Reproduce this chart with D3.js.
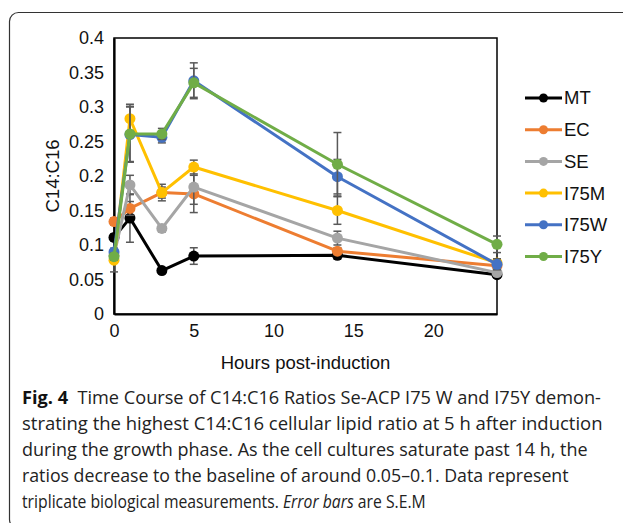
<!DOCTYPE html>
<html>
<head>
<meta charset="utf-8">
<script src="https://cdn.jsdelivr.net/npm/d3@7"></script>
<style>
  html, body { margin: 0; padding: 0; background: #fff; }
  svg { display: block; }
</style>
</head>
<body>
<div id="chart"></div>
<script>
// data
const hours = [0, 1, 3, 5, 14, 24];
const seriesNames = ["MT", "EC", "SE", "I75M", "I75W", "I75Y"];
const seriesColors = ["#000000", "#ED7D31", "#A5A5A5", "#FFC000", "#4472C4", "#70AD47"];

const MT = [0.111, 0.139, 0.063, 0.084, 0.085, 0.057];
const EC = [0.134, 0.153, 0.176, 0.174, 0.091, 0.070];
const SE = [0.085, 0.187, 0.124, 0.184, 0.110, 0.060];
const I75M = [0.078, 0.283, 0.176, 0.213, 0.150, 0.074];
const I75W = [0.090, 0.260, 0.256, 0.338, 0.199, 0.072];
const I75Y = [0.083, 0.261, 0.261, 0.335, 0.217, 0.101];

const MT_err = [0.005, 0.035, 0.004, 0.012, 0.005, 0.004];
const EC_err = [0.005, 0.010, 0.008, 0.027, 0.005, 0.005];
const SE_err = [0.005, 0.014, 0.005, 0.025, 0.010, 0.005];
const I75M_err = [0.017, 0.021, 0.012, 0.010, 0.020, 0.006];
const I75W_err = [0.005, 0.040, 0.008, 0.026, 0.025, 0.008];
const I75Y_err = [0.005, 0.040, 0.008, 0.021, 0.046, 0.012];

const yTicks = [0, 0.05, 0.1, 0.15, 0.2, 0.25, 0.3, 0.35, 0.4];
const yTickLabels = ["0", "0.05", "0.1", "0.15", "0.2", "0.25", "0.3", "0.35", "0.4"];
const xTicks = [0, 5, 10, 15, 20];

const captionLines = [
  "Time Course of C14:C16 Ratios Se-ACP I75 W and I75Y demon-",
  "strating the highest C14:C16 cellular lipid ratio at 5 h after induction",
  "during the growth phase. As the cell cultures saturate past 14 h, the",
  "ratios decrease to the baseline of around 0.05\u20130.1. Data represent",
  "triplicate biological measurements."
];

const values = [MT, EC, SE, I75M, I75W, I75Y];
const errors = [MT_err, EC_err, SE_err, I75M_err, I75W_err, I75Y_err];

const W = 623, H = 523;
const margin = { t: 38, r: 120, b: 209, l: 114 };

const svg = d3.select("#chart").append("svg")
  .attr("width", W).attr("height", H)
  .attr("viewBox", [0, 0, W, H])
  .attr("font-family", "'Liberation Sans', Arial, sans-serif");

// figure frame (rounded box that runs off the right edge)
svg.append("rect")
  .attr("x", 9.5).attr("y", 12.5)
  .attr("width", 700).attr("height", 516)
  .attr("rx", 9)
  .attr("fill", "none")
  .attr("stroke", "#333")
  .attr("stroke-width", 1.2);

const x = d3.scaleLinear().domain([0, 24]).range([margin.l, W - margin.r - 6]);
const y = d3.scaleLinear().domain([0, 0.4]).range([H - margin.b, margin.t]);

// plot area border
svg.append("rect")
  .attr("x", x(0)).attr("y", y(0.4))
  .attr("width", x(24) - x(0)).attr("height", y(0) - y(0.4))
  .attr("fill", "none").attr("stroke", "#000").attr("stroke-width", 1.5);

// axes
const ay = d3.axisLeft(y).tickValues(yTicks)
  .tickFormat((d, i) => yTickLabels[i]).tickSize(0).tickPadding(10);
const gy = svg.append("g").attr("transform", `translate(${x(0)},0)`).call(ay);
gy.select(".domain").attr("stroke", "#000").attr("stroke-width", 2.2);
gy.selectAll("text").attr("font-size", 18).attr("fill", "#111")
  .attr("font-family", "'Liberation Sans', Arial, sans-serif");

const ax = d3.axisBottom(x).tickValues(xTicks).tickSize(0).tickPadding(10);
const gx = svg.append("g").attr("transform", `translate(0,${y(0)})`).call(ax);
gx.select(".domain").attr("stroke", "#000").attr("stroke-width", 2.2);
gx.selectAll("text").attr("font-size", 18).attr("fill", "#111")
  .attr("font-family", "'Liberation Sans', Arial, sans-serif");

// axis titles
svg.append("text")
  .attr("x", (x(0) + x(24)) / 2).attr("y", 369)
  .attr("text-anchor", "middle").attr("font-size", 18.5).attr("fill", "#111")
  .text("Hours post-induction");

svg.append("text")
  .attr("transform", `translate(59,${(y(0) + y(0.4)) / 2}) rotate(-90)`)
  .attr("text-anchor", "middle").attr("font-size", 18.5).attr("fill", "#111")
  .text("C14:C16");

// series: error bars, line, markers
const line = d3.line()
  .x((d, i) => x(hours[i]))
  .y(d => y(d));

const plot = svg.append("g");
values.forEach((vals, s) => {
  const g = plot.append("g");
  const err = errors[s];
  g.selectAll("g.err").data(vals).join("g").attr("class", "err")
    .each(function (d, i) {
      const e = d3.select(this);
      const cx = x(hours[i]);
      const hi = y(d + err[i]), lo = y(d - err[i]);
      e.append("line").attr("x1", cx).attr("x2", cx).attr("y1", hi).attr("y2", lo);
      e.append("line").attr("x1", cx - 4).attr("x2", cx + 4).attr("y1", hi).attr("y2", hi);
      e.append("line").attr("x1", cx - 4).attr("x2", cx + 4).attr("y1", lo).attr("y2", lo);
    })
    .attr("stroke", "#595959").attr("stroke-width", 1.5);

  g.append("path").datum(vals)
    .attr("d", line)
    .attr("fill", "none")
    .attr("stroke", seriesColors[s])
    .attr("stroke-width", 3)
    .attr("stroke-linejoin", "round");

  g.selectAll("circle").data(vals).join("circle")
    .attr("cx", (d, i) => x(hours[i]))
    .attr("cy", d => y(d))
    .attr("r", 5.5)
    .attr("fill", seriesColors[s]);
});

// legend
const legend = svg.append("g").attr("transform", "translate(525,98)");
seriesNames.forEach((name, i) => {
  const row = legend.append("g").attr("transform", `translate(0,${i * 31.7})`);
  row.append("line").attr("x1", 0).attr("x2", 37).attr("y1", 0).attr("y2", 0)
    .attr("stroke", seriesColors[i]).attr("stroke-width", 3);
  row.append("circle").attr("cx", 18.5).attr("cy", 0).attr("r", 4.5)
    .attr("fill", seriesColors[i]);
  row.append("text").attr("x", 39).attr("y", 0).attr("dy", "0.35em")
    .attr("font-size", 18.5).attr("fill", "#111").text(name);
});

// caption, each line squeezed horizontally to the width it has in the figure
const capFont = "'Open Sans', 'Noto Sans', sans-serif";
const capWidths = [579, 581, 566, 547, 404];
const cap = svg.append("g").attr("font-family", capFont).attr("font-size", 18).attr("fill", "#222");
captionLines.forEach((txt, i) => {
  const row = cap.append("g").attr("transform", `translate(22,${404 + i * 26})`);
  const t = row.append("text").attr("x", 0).attr("y", 0);
  if (i === 0) {
    t.append("tspan").attr("font-weight", "bold").attr("fill", "#111").text("Fig. 4");
    t.append("tspan").text("\u00a0\u00a0" + txt);
  } else if (i === 4) {
    t.append("tspan").text(txt + " ");
    t.append("tspan").attr("font-style", "italic").text("Error bars");
    t.append("tspan").text(" are S.E.M");
  } else {
    t.text(txt);
  }
  const natural = t.node().getComputedTextLength();
  t.attr("transform", `scale(${capWidths[i] / natural},1)`);
});
</script>
</body>
</html>
